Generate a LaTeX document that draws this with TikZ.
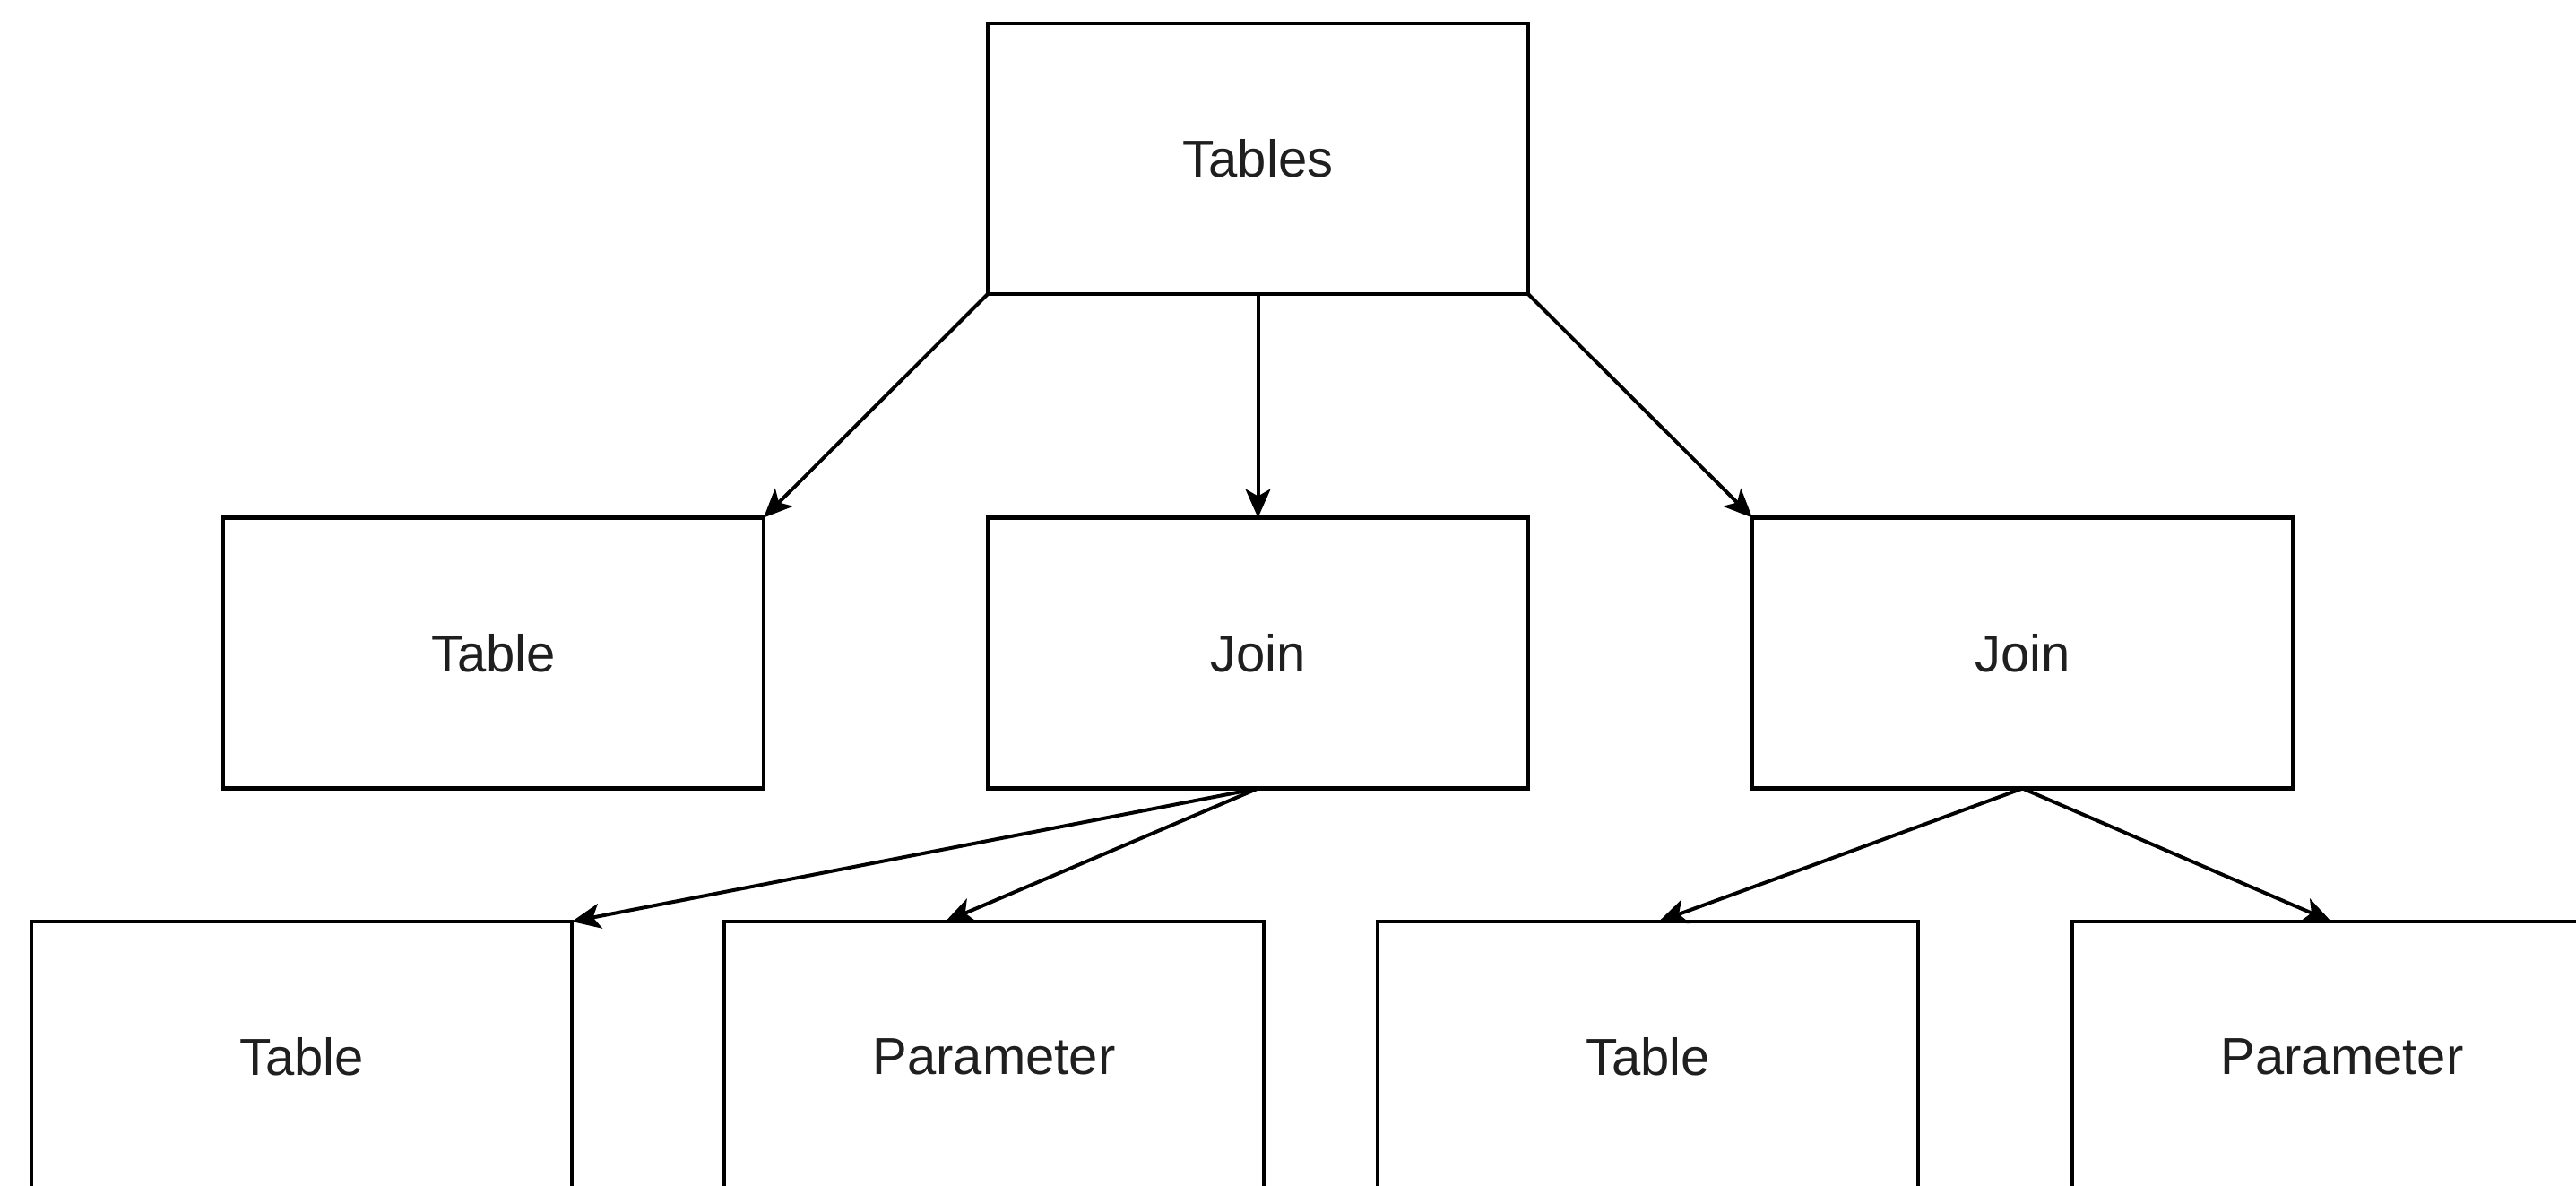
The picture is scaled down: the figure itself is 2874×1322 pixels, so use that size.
\documentclass[tikz,border=0pt]{standalone}
\usepackage{fontspec}
\setmainfont{Liberation Sans}
\usetikzlibrary{arrows.meta,calc}
\begin{document}
\begin{tikzpicture}[x=0.5pt,y=-0.5pt,
  box/.style={draw=black,line width=2.2pt,fill=white,minimum width=301.5pt,minimum height=151pt,inner sep=0pt,outer sep=0pt,font=\fontsize{29pt}{34pt}\selectfont,text=black!88},
  conn/.style={line width=2pt,-{Stealth[length=16pt,width=14pt,inset=4pt]}}]
\useasboundingbox (0,0) rectangle (2874,1322);
\clip (0,0) rectangle (2874,1322);
\fill[white] (0,0) rectangle (2874,1322);
\node[box] (tables) at (1403.5,177) {Tables};
\node[box] (t1) at (550.5,728.5) {Table};
\node[box] (j1) at (1403.5,728.5) {Join};
\node[box] (j2) at (2256.5,728.5) {Join};
\node[box] (t3) at (336.5,1179) {Table};
\node[box] (p3) at (1109,1179) {Parameter};
\node[box] (t4) at (1838.5,1179) {Table};
\node[box] (p4) at (2613,1179) {Parameter};
\coordinate (p3in) at ($(p3.north west)!0.41!(p3.north east)$);
\coordinate (t4in) at ($(t4.north west)!0.52!(t4.north east)$);
\coordinate (p4in) at ($(p4.north west)!0.48!(p4.north east)$);
\draw[conn] (tables.south west) -- (t1.north east);
\draw[conn] (tables.south) -- (j1.north);
\draw[conn] (tables.south east) -- (j2.north west);
\draw[conn] (j1.south) -- (t3.north east);
\draw[conn] (j1.south) -- (p3in);
\draw[conn] (j2.south) -- (t4in);
\draw[conn] (j2.south) -- (p4in);
\end{tikzpicture}
\end{document}
